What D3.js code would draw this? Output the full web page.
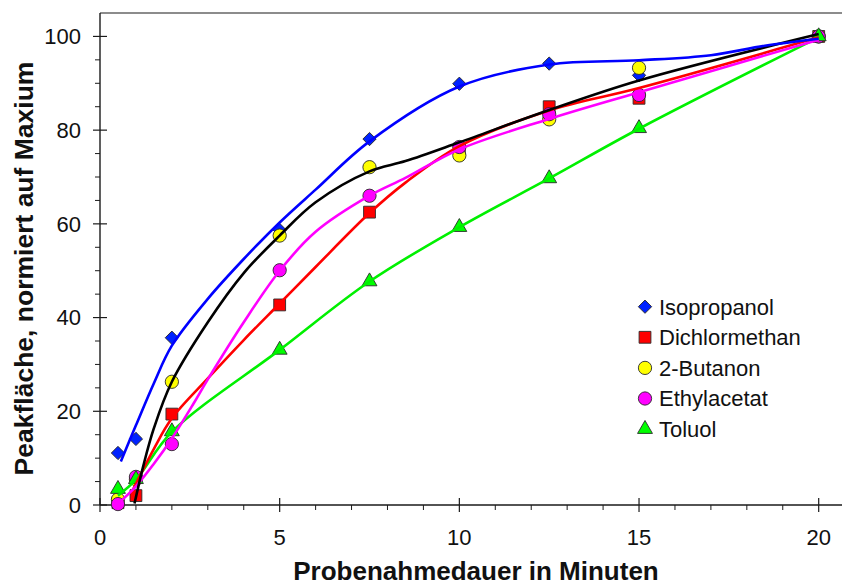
<!DOCTYPE html>
<html>
<head>
<meta charset="utf-8">
<script src="https://cdn.jsdelivr.net/npm/d3@7"></script>
<style>
  html, body { margin: 0; padding: 0; background: #fff; }
  svg { display: block; font-family: "Liberation Sans", Arial, sans-serif; }
</style>
</head>
<body>
<svg id="chart" width="842" height="586"></svg>
<script>
// Sampling times (minutes)
const times = [0.5, 1, 2, 5, 7.5, 10, 12.5, 15, 20];

// Measured peak areas, normalised to the maximum (%)
const isopropanol   = [11.1, 14.1, 35.7, 58.7, 78.1, 89.9, 94.2, 91.7, 100];
const dichlormethan = [0.5, 2.0, 19.4, 42.7, 62.5, 76.0, 85.0, 86.8, 100];
const butanon       = [1.2, 5.5, 26.3, 57.5, 72.1, 74.6, 82.3, 93.3, 100];
const ethylacetat   = [0.2, 6.0, 13.0, 50.1, 66.0, 76.4, 83.4, 87.5, 100];
const toluol        = [3.4, 5.5, 15.7, 33.1, 47.7, 59.3, 69.7, 80.4, 100];

// Smoothed trend curves [minutes, value]
const isopropanolFit = [[0.58, 9.3], [1, 17], [1.5, 26], [2, 34], [3, 44], [4, 52.5], [5, 60.3], [6, 67.3], [7.5, 77.6], [10, 89.3], [12.5, 94], [15, 94.9], [17, 96], [18.5, 98], [20, 99.5]];
const dichlormethanFit = [[0.9, 3], [1.5, 12], [2, 18.5], [3, 27], [4, 35.2], [5, 43], [6, 50.8], [7.5, 62.3], [8.5, 68.8], [10, 76.6], [12.5, 84.2], [15, 89], [20, 99.8]];
const butanonFit = [[0.96, 0.3], [1.2, 8.2], [1.5, 16.4], [2, 26.3], [3, 39], [4, 49.5], [5, 57.5], [6, 64.6], [7.5, 71.2], [8.5, 73.4], [10, 77.4], [12.5, 84.3], [15, 90.6], [20, 100.5]];
const ethylacetatFit = [[0.5, 0.3], [1, 4], [1.5, 8.8], [2, 14.2], [2.6, 21.6], [3, 26.8], [4, 39], [5, 50], [6, 58.3], [7.5, 66], [8.5, 69.8], [10, 75.9], [12.5, 82.4], [15, 88.1], [20, 99.3]];
const toluolFit = [[0.5, 2], [1, 5.4], [2, 15.6], [5, 33.1], [7.5, 47.7], [10, 59.3], [12.5, 69.7], [15, 80.3], [20, 99.8]];

// Axis ticks
const xTicks = [0, 5, 10, 15, 20];
const yTicks = [0, 20, 40, 60, 80, 100];

const svg = d3.select("#chart");

const x = d3.scaleLinear().domain([0, 20]).range([100, 818.7]);
const y = d3.scaleLinear().domain([0, 105]).range([505, 13]);

const axisColor = "#1a1a1a";

// Frame: top edge, left axis, bottom axis
svg.append("line").attr("x1", 100).attr("x2", 842).attr("y1", y(105)).attr("y2", y(105))
  .attr("stroke", axisColor).attr("stroke-width", 1.2);
svg.append("line").attr("x1", 100).attr("x2", 100).attr("y1", y(105)).attr("y2", y(0))
  .attr("stroke", axisColor).attr("stroke-width", 1.4);
svg.append("line").attr("x1", 100).attr("x2", 842).attr("y1", y(0)).attr("y2", y(0))
  .attr("stroke", axisColor).attr("stroke-width", 1.4);

// Y ticks: majors cross the axis, minors outside
const yMinor = d3.range(5, 105, 5).filter(v => v % 20 !== 0);
svg.append("g").selectAll("line").data(yMinor).join("line")
  .attr("x1", 95).attr("x2", 100).attr("y1", d => y(d)).attr("y2", d => y(d))
  .attr("stroke", axisColor).attr("stroke-width", 1);
svg.append("g").selectAll("line").data(yTicks).join("line")
  .attr("x1", 93).attr("x2", 107).attr("y1", d => y(d)).attr("y2", d => y(d))
  .attr("stroke", axisColor).attr("stroke-width", 1.2);
svg.append("g").selectAll("text").data(yTicks).join("text")
  .attr("x", 81).attr("y", d => y(d)).attr("dy", "0.36em")
  .attr("text-anchor", "end").attr("font-size", 22).attr("fill", "#111")
  .text(d => d);

// X ticks
const xMinor = d3.range(1, 21, 1).filter(v => v % 5 !== 0);
svg.append("g").selectAll("line").data(xMinor).join("line")
  .attr("x1", d => x(d)).attr("x2", d => x(d)).attr("y1", 505).attr("y2", 510)
  .attr("stroke", axisColor).attr("stroke-width", 1);
svg.append("g").selectAll("line").data(xTicks).join("line")
  .attr("x1", d => x(d)).attr("x2", d => x(d)).attr("y1", 498).attr("y2", 512)
  .attr("stroke", axisColor).attr("stroke-width", 1.2);
svg.append("g").selectAll("text").data(xTicks).join("text")
  .attr("x", d => x(d)).attr("y", 545)
  .attr("text-anchor", "middle").attr("font-size", 22).attr("fill", "#111")
  .text(d => d);

// Axis titles
svg.append("text").attr("x", 476).attr("y", 580)
  .attr("text-anchor", "middle").attr("font-size", 26).attr("font-weight", "bold")
  .attr("fill", "#111").text("Probenahmedauer in Minuten");
svg.append("text").attr("transform", "translate(33,268.5) rotate(-90)")
  .attr("text-anchor", "middle").attr("font-size", 26.5).attr("font-weight", "bold")
  .attr("fill", "#111").text("Peakfläche, normiert auf Maxium");

// Series definitions
const series = [
  { name: "Isopropanol",   values: isopropanol,   fit: isopropanolFit,   fill: "#0022ff", line: "#0000ff", shape: "diamond" },
  { name: "Dichlormethan", values: dichlormethan, fit: dichlormethanFit, fill: "#ff0000", line: "#ff0000", shape: "square" },
  { name: "2-Butanon",     values: butanon,       fit: butanonFit,       fill: "#ffff00", line: "#000000", shape: "circle" },
  { name: "Ethylacetat",   values: ethylacetat,   fit: ethylacetatFit,   fill: "#ff00ff", line: "#ff00ff", shape: "circle" },
  { name: "Toluol",        values: toluol,        fit: toluolFit,        fill: "#00ff00", line: "#00f000", shape: "triangle" }
];

const symbolFor = {
  diamond: d3.symbol(d3.symbolSquare, 88)(),
  square: d3.symbol(d3.symbolSquare, 140)(),
  circle: d3.symbol(d3.symbolCircle, 138)(),
  triangle: d3.symbol(d3.symbolTriangle, 96)()
};
const rotFor = { diamond: 45, square: 0, circle: 0, triangle: 0 };

function drawMarker(g, s, cx, cy) {
  g.append("path")
    .attr("d", symbolFor[s.shape])
    .attr("transform", `translate(${cx},${cy}) rotate(${rotFor[s.shape]})`)
    .attr("fill", s.fill)
    .attr("stroke", "#2a2a2a")
    .attr("stroke-width", 0.9);
}

// Markers
const markerLayer = svg.append("g");
series.forEach(s => {
  s.values.forEach((v, i) => drawMarker(markerLayer, s, x(times[i]), y(v)));
});

// Trend curves, drawn above the markers
const lineGen = d3.line()
  .x(d => x(d[0]))
  .y(d => y(d[1]))
  .curve(d3.curveCatmullRom.alpha(0.5));

const lineOrder = ["Toluol", "Dichlormethan", "Ethylacetat", "2-Butanon", "Isopropanol"];
const lineLayer = svg.append("g");
lineOrder.forEach(n => {
  const s = series.find(d => d.name === n);
  lineLayer.append("path")
    .attr("d", lineGen(s.fit))
    .attr("fill", "none")
    .attr("stroke", s.line)
    .attr("stroke-width", 2.6)
    .attr("stroke-linejoin", "round");
});

// Legend
const legend = svg.append("g");
series.forEach((s, i) => {
  const ly = 306.7 + i * 30.6;
  drawMarker(legend, s, 645, ly);
  legend.append("text")
    .attr("x", 659).attr("y", ly).attr("dy", "0.36em")
    .attr("font-size", 22).attr("fill", "#111")
    .text(s.name);
});
</script>
</body>
</html>
